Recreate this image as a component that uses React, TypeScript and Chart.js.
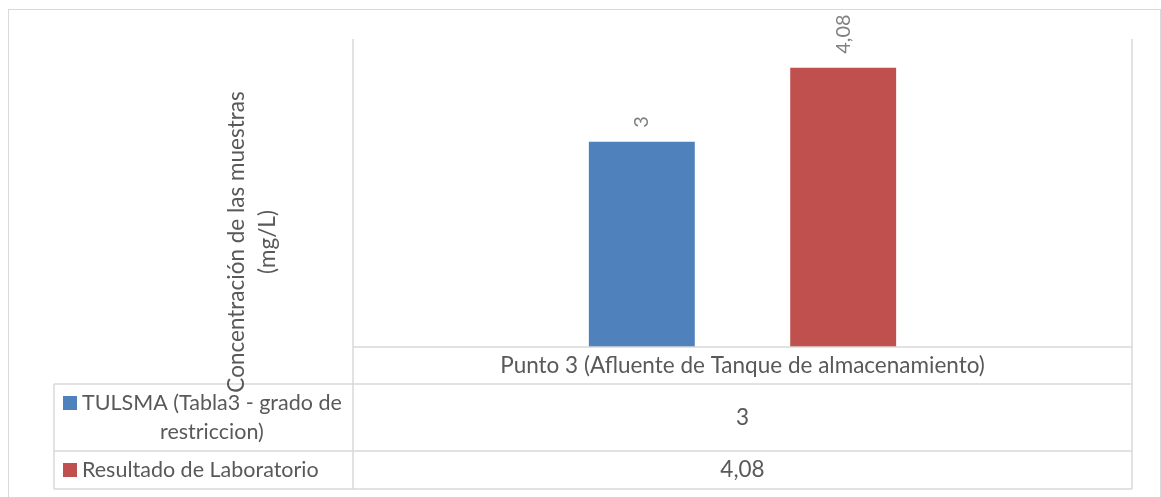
import React, { useEffect, useRef } from "react";
import { Chart, registerables } from "chart.js";

Chart.register(...registerables);

// Chart data
const categories = ["Punto 3 (Afluente de Tanque de almacenamiento)"];
const seriesNames = ["TULSMA (Tabla3 - grado de restriccion)", "Resultado de Laboratorio"];
const tulsmaValues = [3];
const laboratorioValues = [4.08];
const seriesColors = ["#4F81BD", "#C0504D"];
const axisTitleLines = ["Concentración de las muestras", "(mg/L)"];
const yAxisMax = 4.5;

const W = 1161;
const H = 497;
const FONT = "Lato, 'Open Sans', sans-serif";
const TEXT_SIZE = 22.5;
const LEGEND_SIZE = 21.5;
const LABEL_SIZE = 20;
const TEXT_COLOR = "#595959";
const LABEL_COLOR = "#808080";
const LINE_COLOR = "#D9D9D9";

// geometry of the plot and the data table
const PLOT = { left: 353, right: 1132, top: 39, bottom: 347 };
const TABLE = { left: 54, headerBottom: 384, row1Bottom: 451, row2Bottom: 489 };

const fmt = (v: number) => String(v).replace(".", ",");

function wrapText(ctx: CanvasRenderingContext2D, text: string, maxWidth: number): string[] {
  const words = text.split(" ");
  const lines: string[] = [];
  let cur = "";
  for (const w of words) {
    const test = cur ? cur + " " + w : w;
    if (ctx.measureText(test).width > maxWidth && cur) {
      lines.push(cur);
      cur = w;
    } else {
      cur = test;
    }
  }
  if (cur) lines.push(cur);
  return lines;
}

const tablePlugin = {
  id: "excelTable",
  afterDraw(chart: any) {
    const ctx: CanvasRenderingContext2D = chart.ctx;
    const area = chart.chartArea;
    ctx.save();

    // outer frame
    ctx.strokeStyle = LINE_COLOR;
    ctx.lineWidth = 1;
    ctx.strokeRect(8.5, 9.5, 1152, H + 20);

    // plot / table lines
    ctx.lineWidth = 1.5;
    ctx.beginPath();
    ctx.moveTo(area.left, area.top);
    ctx.lineTo(area.left, TABLE.row2Bottom);
    ctx.moveTo(area.right, area.top);
    ctx.lineTo(area.right, TABLE.row2Bottom);
    ctx.moveTo(area.left, area.bottom);
    ctx.lineTo(area.right, area.bottom);
    ctx.moveTo(TABLE.left, TABLE.headerBottom);
    ctx.lineTo(area.right, TABLE.headerBottom);
    ctx.moveTo(TABLE.left, TABLE.row1Bottom);
    ctx.lineTo(area.right, TABLE.row1Bottom);
    ctx.moveTo(TABLE.left, TABLE.row2Bottom);
    ctx.lineTo(area.right, TABLE.row2Bottom);
    ctx.moveTo(TABLE.left, TABLE.headerBottom);
    ctx.lineTo(TABLE.left, TABLE.row2Bottom);
    ctx.stroke();

    const cx = (area.left + area.right) / 2;
    ctx.fillStyle = TEXT_COLOR;
    ctx.font = `${TEXT_SIZE}px ${FONT}`;
    ctx.textAlign = "center";
    ctx.textBaseline = "middle";

    // category header
    ctx.fillText(categories[0], cx, (area.bottom + TABLE.headerBottom) / 2);

    // data rows
    const rows = [
      { top: TABLE.headerBottom, bottom: TABLE.row1Bottom, values: tulsmaValues },
      { top: TABLE.row1Bottom, bottom: TABLE.row2Bottom, values: laboratorioValues },
    ];
    const lineH = 29;
    rows.forEach((row, i) => {
      const mid = (row.top + row.bottom) / 2;
      ctx.font = `${TEXT_SIZE}px ${FONT}`;
      ctx.textAlign = "center";
      ctx.fillStyle = TEXT_COLOR;
      ctx.fillText(fmt(row.values[0]), cx, mid);

      // legend key and wrapped series name
      ctx.font = `${LEGEND_SIZE}px ${FONT}`;
      const lines = wrapText(ctx, seriesNames[i], 280);
      const blockW = Math.max(...lines.map((l) => ctx.measureText(l).width));
      const textLeft = TABLE.left + 28;
      const y0 = mid - ((lines.length - 1) * lineH) / 2;
      ctx.fillStyle = seriesColors[i];
      ctx.fillRect(TABLE.left + 9, y0 - 7, 14, 14);
      ctx.fillStyle = TEXT_COLOR;
      lines.forEach((l, j) => {
        if (j === 0) {
          ctx.textAlign = "left";
          ctx.fillText(l, textLeft, y0);
        } else {
          ctx.textAlign = "center";
          ctx.fillText(l, textLeft + blockW / 2, y0 + j * lineH);
        }
      });
    });

    // rotated axis title
    ctx.font = `${TEXT_SIZE}px ${FONT}`;
    ctx.fillStyle = TEXT_COLOR;
    ctx.textAlign = "center";
    const titleX = [237, 268];
    axisTitleLines.forEach((t, i) => {
      ctx.save();
      ctx.translate(titleX[i], 242);
      ctx.rotate(-Math.PI / 2);
      ctx.fillText(t, 0, 0);
      ctx.restore();
    });

    // rotated value labels above bars
    ctx.font = `${LABEL_SIZE}px ${FONT}`;
    ctx.fillStyle = LABEL_COLOR;
    ctx.textAlign = "left";
    chart.data.datasets.forEach((ds: any, i: number) => {
      const meta = chart.getDatasetMeta(i);
      meta.data.forEach((bar: any, j: number) => {
        ctx.save();
        ctx.translate(bar.x, bar.y - 14);
        ctx.rotate(-Math.PI / 2);
        ctx.fillText(fmt(ds.data[j]), 0, 0);
        ctx.restore();
      });
    });

    ctx.restore();
  },
};

export default function App() {
  const ref = useRef<HTMLCanvasElement>(null);

  useEffect(() => {
    const canvas = ref.current!;
    const chart = new Chart(canvas, {
      type: "bar",
      data: {
        labels: categories,
        datasets: [
          { label: seriesNames[0], data: tulsmaValues, backgroundColor: seriesColors[0] },
          { label: seriesNames[1], data: laboratorioValues, backgroundColor: seriesColors[1] },
        ],
      },
      options: {
        animation: false,
        responsive: false,
        devicePixelRatio: 1,
        layout: {
          padding: { left: PLOT.left, right: W - PLOT.right, top: PLOT.top, bottom: H - PLOT.bottom },
        },
        datasets: { bar: { categoryPercentage: 0.517, barPercentage: 0.526 } },
        scales: {
          x: { display: false },
          y: { display: false, min: 0, max: yAxisMax },
        },
        plugins: { legend: { display: false }, tooltip: { enabled: false }, title: { display: false } },
      },
      plugins: [tablePlugin],
    });
    return () => chart.destroy();
  }, []);

  return (
    <div style={{ position: "fixed", left: 0, top: 0, width: W, height: H, background: "#fff" }}>
      <canvas ref={ref} width={W} height={H} style={{ display: "block" }} />
    </div>
  );
}
